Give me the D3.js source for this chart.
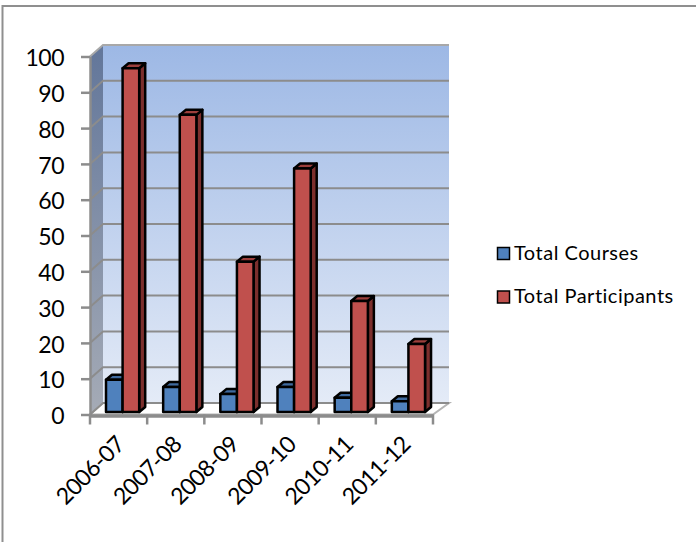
<!DOCTYPE html>
<html>
<head>
<meta charset="utf-8">
<script src="https://cdn.jsdelivr.net/npm/d3@7"></script>
<style>
  html, body { margin: 0; padding: 0; background: #fff; }
  svg { display: block; }
  text { font-family: Lato, "Open Sans", sans-serif; fill: #000; }
</style>
</head>
<body>
<svg id="chart" width="696" height="542"></svg>
<script>
const years = ['2006-07', '2007-08', '2008-09', '2009-10', '2010-11', '2011-12']
const totalCourses = [9, 7, 5, 7, 4, 3]
const totalParticipants = [96, 83, 42, 68, 31, 19]
const yTicks = [0, 10, 20, 30, 40, 50, 60, 70, 80, 90, 100]
const seriesNames = ['Total Courses', 'Total Participants']

const plotLeft = 90
const plotRight = 433
const plotBottom = 414.5
const plotTop = 56.5
const wallDx = 13
const wallDy = -11.5
const barDx = 6
const barDy = -5
const barBaseDy = -2.5
const barShift = 16
const barWidth = 16.6

const colors = [
  { front: '#4f81bd', side: '#2f5380', top: '#3f6a9f' },
  { front: '#c0504d', side: '#7c2f2d', top: '#9c3f3c' }
]
const gridColor = '#8c8c8c'

const svg = d3.select('#chart')
const xScale = d3.scaleBand().domain(years).range([plotLeft, plotRight])
const yScale = d3.scaleLinear().domain([0, 100]).range([plotBottom, plotTop])

const defs = svg.append('defs')
function addGradient (id, from, to) {
  const g = defs.append('linearGradient').attr('id', id)
    .attr('x1', 0).attr('y1', 0).attr('x2', 0).attr('y2', 1)
  g.append('stop').attr('offset', '0%').attr('stop-color', from)
  g.append('stop').attr('offset', '100%').attr('stop-color', to)
}
addGradient('wall', '#9db8e5', '#e4ebf7')
addGradient('side', '#62769a', '#a5abb6')

function poly (points) {
  return points.map(p => p.join(',')).join(' ')
}

/**
 * Draws the outer frame, only the top and left edges show.
 */
function drawFrame () {
  svg.append('path')
    .attr('d', 'M2.5,542V6H696')
    .attr('fill', 'none')
    .attr('stroke', '#8f8f8f')
    .attr('stroke-width', 2)
}

/**
 * Draws the back wall, side wall, floor and gridlines.
 */
function drawWalls () {
  const backLeft = plotLeft + wallDx
  const backRight = plotRight + wallDx + 3
  svg.append('polygon')
    .attr('points', poly([[backLeft, plotTop + wallDy], [backRight, plotTop + wallDy], [backRight, plotBottom + wallDy], [backLeft, plotBottom + wallDy]]))
    .attr('fill', 'url(#wall)')
  svg.append('polygon')
    .attr('points', poly([[plotLeft, plotTop], [backLeft, plotTop + wallDy], [backLeft, plotBottom + wallDy], [plotLeft, plotBottom]]))
    .attr('fill', 'url(#side)')
  svg.append('polygon')
    .attr('points', poly([[plotLeft, plotBottom], [backLeft, plotBottom + wallDy], [backRight, plotBottom + wallDy], [plotRight, plotBottom]]))
    .attr('fill', '#fff')
    .attr('stroke', '#b5b5b5')
    .attr('stroke-width', 2)

  svg.selectAll('.grid')
    .data(yTicks)
    .enter()
    .append('polyline')
    .attr('class', 'grid')
    .attr('points', d => poly([[plotLeft, yScale(d)], [backLeft, yScale(d) + wallDy], [backRight, yScale(d) + wallDy]]))
    .attr('fill', 'none')
    .attr('stroke', d => d === 100 ? '#a8a8a8' : gridColor)
    .attr('stroke-width', 2)
}

/**
 * Draws one series of 3D bars.
 *
 * @param {number[]} values The series values
 * @param {number} index The series position inside each group
 */
function drawSeries (values, index) {
  const c = colors[index]
  const g = svg.append('g').attr('stroke', '#000').attr('stroke-width', 2.5).attr('stroke-linejoin', 'round')
  const barX = (d, i) => xScale(years[i]) + barShift + index * barWidth
  const barY = d => yScale(d) + barBaseDy

  g.selectAll('.side')
    .data(values)
    .enter()
    .append('polygon')
    .attr('class', 'side')
    .attr('fill', c.side)
    .attr('points', (d, i) => {
      const x = barX(d, i) + barWidth
      return poly([[x, barY(d)], [x + barDx, barY(d) + barDy], [x + barDx, barY(0) + barDy], [x, barY(0)]])
    })
  g.selectAll('.top')
    .data(values)
    .enter()
    .append('polygon')
    .attr('class', 'top')
    .attr('fill', c.top)
    .attr('points', (d, i) => {
      const x = barX(d, i)
      return poly([[x, barY(d)], [x + barDx, barY(d) + barDy], [x + barWidth + barDx, barY(d) + barDy], [x + barWidth, barY(d)]])
    })
  g.selectAll('.front')
    .data(values)
    .enter()
    .append('rect')
    .attr('class', 'front')
    .attr('fill', c.front)
    .attr('x', barX)
    .attr('y', barY)
    .attr('width', barWidth)
    .attr('height', d => barY(0) - barY(d))
}

/**
 * Draws the x and y axes with their labels.
 */
function drawAxes () {
  const yAxis = d3.axisLeft(yScale).tickValues(yTicks).tickSize(9).tickPadding(17).tickSizeOuter(0)
  const yG = svg.append('g').attr('transform', `translate(${plotLeft},0)`).call(yAxis)
  yG.selectAll('text').attr('dy', '0.4em').style('font-size', '23px').style('letter-spacing', '-0.5px')
  yG.selectAll('line, path').attr('stroke', gridColor).attr('stroke-width', 2.5)

  const xAxis = d3.axisBottom(xScale).tickSize(0).tickFormat('')
  const xG = svg.append('g').attr('transform', `translate(0,${plotBottom + 1})`).call(xAxis)
  xG.selectAll('path').attr('stroke', gridColor).attr('stroke-width', 3.5)

  svg.selectAll('.x-tick')
    .data(years.map(y => xScale(y)).concat(plotRight))
    .enter()
    .append('line')
    .attr('class', 'x-tick')
    .attr('x1', d => d)
    .attr('x2', d => d)
    .attr('y1', plotBottom)
    .attr('y2', plotBottom + 10)
    .attr('stroke', gridColor)
    .attr('stroke-width', 2.5)

  svg.selectAll('.x-label')
    .data(years)
    .enter()
    .append('text')
    .attr('class', 'x-label')
    .attr('text-anchor', 'end')
    .attr('transform', d => `translate(${xScale(d) + xScale.bandwidth() / 2 - 4},${plotBottom + 20}) rotate(-45)`)
    .attr('dy', '0.7em')
    .style('font-size', '23px')
    .style('letter-spacing', '-0.5px')
    .text(d => d)
}

/**
 * Draws the legend on the right side.
 */
function drawLegend () {
  const legendY = d3.scalePoint().domain(seriesNames).range([253.5, 297])
  const items = svg.selectAll('.legend')
    .data(seriesNames)
    .enter()
    .append('g')
    .attr('class', 'legend')
    .attr('transform', d => `translate(497,${legendY(d)})`)
  items.append('rect')
    .attr('x', 0.5)
    .attr('y', -6)
    .attr('width', 12)
    .attr('height', 12)
    .attr('fill', (d, i) => colors[i].front)
    .attr('stroke', '#000')
    .attr('stroke-width', 1.5)
  items.append('text')
    .attr('x', 17)
    .attr('dy', '0.3em')
    .style('font-size', '20px')
    .style('letter-spacing', '0.5px')
    .text(d => d)
}

drawFrame()
drawWalls()
drawSeries(totalCourses, 0)
drawSeries(totalParticipants, 1)
drawAxes()
drawLegend()
</script>
</body>
</html>
